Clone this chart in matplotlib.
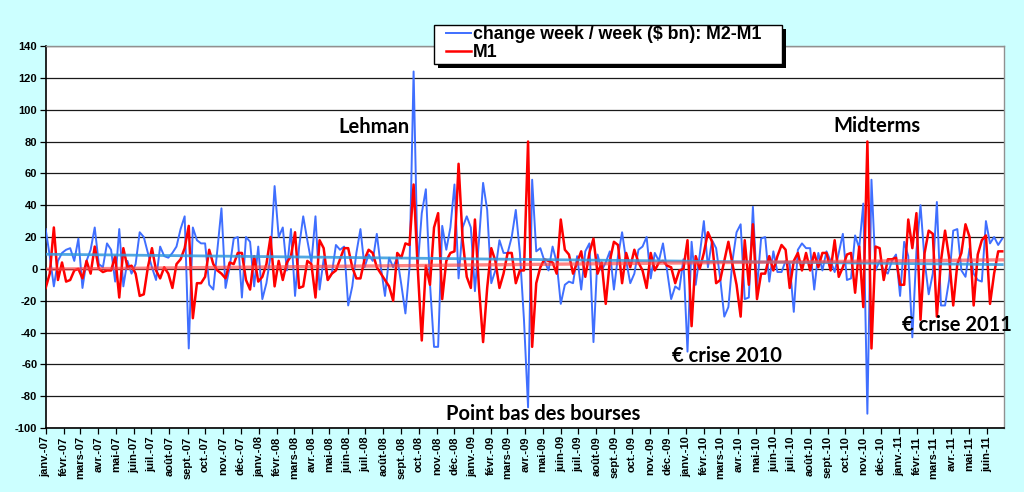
import numpy as np
import pandas as pd
import matplotlib
matplotlib.use("Agg")
import matplotlib.pyplot as plt
import matplotlib.dates as mdates
from matplotlib.patches import Rectangle

# ---------------- data ----------------
start_date = "2007-01-01"
end_date = "2011-06-30"

m2_m1 = [
    25, 8, -11, 5, 10, 12, 13, 5, 19, -12, 5, 12, 26, 3, 1, 16, 12, -8, 25, -11,
    5, -3, 3, 23, 20, 10, 1, -7, 14, 8, 7, 10, 14, 25, 33, -50, 26, 18, 16, 16,
    -10, -13, 12, 38, -12, 1, 19, 20, -18, 20, 17, -11, 14, -19, -9, 8, 52, 20, 26, -1,
    25, -17, 14, 33, 18, 4, 33, -13, 6, -7, -3, 15, 12, 14, -23, -11, 10, 25, 1, 9,
    5, 22, 1, -17, 7, 1, 7, -10, -28, 1, 124, 1, 35, 50, -9, -49, -49, 27, 12, 26,
    53, -6, 26, 33, 26, -14, 18, 54, 37, -9, -1, 18, 10, 10, 20, 37, 10, -32, -87, 56,
    11, 13, 5, -1, 14, 4, -22, -10, -8, -9, 8, -13, 11, 16, -46, 9, -1, 4, 11, -13,
    8, 23, 5, -9, -3, 12, 14, 20, -6, 10, 5, 16, -1, -19, -11, -13, 6, -52, 17, -10,
    9, 30, 1, 18, 13, -6, -30, -24, 5, 23, 28, -19, -18, 39, -12, 19, 20, -8, 11, -2,
    -2, 5, 3, -27, 12, 16, 13, 13, -13, 10, -1, 11, 5, -2, 10, 22, -7, -6, 21, 13,
    41, -91, 56, -1, 5, -1, -3, 5, 9, -17, 17, 8, -43, 11, 40, 5, -16, -3, 42, -23,
    -23, -7, 24, 25, -1, -5, 13, -3, -7, -8, 30, 16, 20, 15, 19,
]

m1 = [
    -12, -3, 26, -7, 4, -8, -7, -1, 0, -6, 5, -3, 14, 0, -2, -1, -1, 8, -18, 13,
    1, 2, -3, -17, -16, 1, 13, -1, -6, 1, -3, -12, 3, 6, 13, 27, -31, -9, -9, -5,
    12, 3, -1, -3, -6, 4, 3, 10, 10, -7, -13, 8, -8, -5, 3, 20, -11, 5, -7, 4,
    8, 23, -12, -11, 5, 3, -18, 18, 13, -7, -3, -1, 6, 13, 13, 1, -6, -6, 6, 12,
    10, 1, -3, -7, -11, -20, 10, 7, 16, 15, 53, 1, -45, 2, -10, 26, 35, -19, 5, 10,
    11, 66, 18, -5, -12, 31, -12, -46, -12, 13, 5, -12, -3, 10, 10, -9, -1, -1, 80, -49,
    -9, 1, 6, 5, 4, -3, 31, 12, 9, -3, 4, 11, -5, 10, 19, -3, 4, -22, 5, 17,
    15, -9, 10, 1, 12, 4, -1, -12, 10, -1, 4, 5, 2, 1, -9, -1, 0, 18, -36, 8,
    0, 10, 23, 17, -9, -7, 5, 17, 3, -10, -30, 18, -10, 28, -19, -3, -3, 8, -1, 8,
    15, 12, -12, 5, 10, -1, 10, -1, 10, 1, 10, 10, -1, 18, -5, 1, 9, 10, -15, 14,
    -24, 80, -50, 14, 13, -7, 6, 6, 7, -10, -10, 31, 13, 35, -32, 10, 24, 22, -30, 5,
    24, 7, -23, 3, 10, 28, 20, -23, 9, 18, 21, -22, -3, 11, 11,
]

month_names = ["janv.", "févr.", "mars", "avr.", "mai", "juin",
               "juil.", "août", "sept.", "oct.", "nov.", "déc."]

legend_labels = ["change week / week ($ bn): M2-M1", "M1"]

annotations = [
    ("Lehman", 0.3425, 89),
    ("Midterms", 0.8675, 90),
    ("Point bas des bourses", 0.519, -91),
    ("€ crise 2010", 0.711, -55),
    ("€ crise 2011", 0.951, -35.5),
]

y_ticks = list(range(-100, 141, 20))

# ---------------- figure ----------------
dates = pd.date_range(start_date, periods=len(m2_m1), freq="7D")
xnum = mdates.date2num(dates)

W, H = 1024, 492
bg = "#CCFFFF"
fig = plt.figure(figsize=(W / 100, H / 100), dpi=100, facecolor=bg)
ax = fig.add_axes([0.0446, 0.130, 0.9359, 0.7765])
ax.set_facecolor("white")

for v in y_ticks:
    ax.axhline(v, color="#1a1a1a", lw=0.9, zorder=1)

blue = "#3F6FFF"
red = "#FF0000"
ax.plot(xnum, m2_m1, color=blue, lw=1.4, zorder=3, label=legend_labels[0])
ax.plot(xnum, m1, color=red, lw=1.8, zorder=4, label=legend_labels[1])

# linear trend lines
t = np.arange(len(m2_m1))
pb = np.polyfit(t, m2_m1, 1)
pr = np.polyfit(t, m1, 1)
ax.plot(xnum, np.polyval(pb, t), color="#3399DD", lw=2.0, alpha=0.85, zorder=5)
ax.plot(xnum, np.polyval(pr, t), color="#FF4444", lw=2.4, alpha=0.65, zorder=5)

ax.set_ylim(-100, 140)
ax.set_xlim(mdates.date2num(pd.Timestamp(start_date)),
            mdates.date2num(pd.Timestamp(end_date)))
ax.set_yticks(y_ticks)
ax.set_yticklabels([str(v) for v in y_ticks])

ticks = pd.date_range("2007-01-01", "2011-06-01", freq="MS")
ax.set_xticks(mdates.date2num(ticks))
ax.set_xticklabels([f"{month_names[d.month-1]}-{d.year % 100:02d}" for d in ticks],
                   rotation=90)

for lab in ax.get_xticklabels():
    lab.set_fontfamily("Liberation Sans")
    lab.set_fontweight("bold")
    lab.set_fontsize(8)
for lab in ax.get_yticklabels():
    lab.set_fontfamily("Liberation Sans")
    lab.set_fontweight("bold")
    lab.set_fontsize(8)

ax.tick_params(axis="x", direction="out", length=4, width=0.9, pad=2, color="black")
ax.tick_params(axis="y", direction="out", length=4, width=0.9, pad=2, color="black")

for s in ["top", "right"]:
    ax.spines[s].set_color("#909090")
    ax.spines[s].set_linewidth(1.0)
for s in ["left", "bottom"]:
    ax.spines[s].set_color("black")
    ax.spines[s].set_linewidth(1.2)

for txt, xf, yv in annotations:
    ax.text(xf, yv, txt, transform=ax.get_yaxis_transform(), ha="center", va="center",
            fontsize=14.5, fontweight="bold", family="Lato", color="black", zorder=6)

# legend box with black drop shadow (Excel style)
bx0, by0, bx1, by1 = 434, 25, 782, 64
fig.patches.append(Rectangle(((bx0 + 4) / W, 1 - (by1 + 4) / H), (bx1 - bx0) / W,
                             (by1 - by0) / H, transform=fig.transFigure,
                             facecolor="black", edgecolor="none", zorder=8))
fig.patches.append(Rectangle((bx0 / W, 1 - by1 / H), (bx1 - bx0) / W, (by1 - by0) / H,
                             transform=fig.transFigure, facecolor="white",
                             edgecolor="black", linewidth=1.0, zorder=9))
leg = fig.legend(loc="upper left", bbox_to_anchor=(446 / W, 1 - 26 / H),
                 frameon=False,
                 prop={"family": "Liberation Sans", "weight": "bold", "size": 12.8},
                 handlelength=1.4, handletextpad=0.1, borderpad=0.0, labelspacing=0.05,
                 borderaxespad=0)
leg.set_zorder(10)

fig.savefig("out.png", dpi=100, facecolor=bg)
